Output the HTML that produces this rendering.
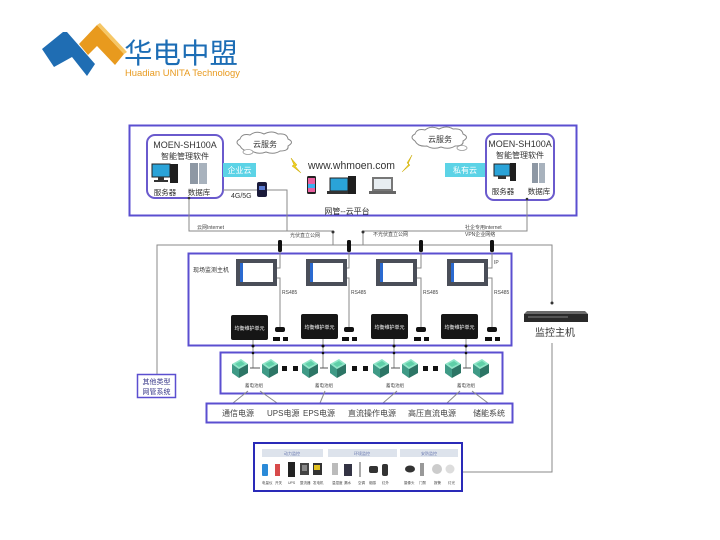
<!DOCTYPE html>
<html><head><meta charset="utf-8"><style>
html,body{margin:0;padding:0;background:#fff;width:720px;height:540px;overflow:hidden}
svg{display:block}
text{font-family:"Liberation Sans","Noto Sans CJK SC",sans-serif}
</style></head><body>
<svg width="720" height="540" viewBox="0 0 720 540" xmlns="http://www.w3.org/2000/svg">
<!-- Logo -->
<polygon points="79,44 97,25 124,54 115,65 97,46 88,55" fill="#e89a1e"/>
<polygon points="97,25 100,23 127,52 124,54" fill="#f6c766"/>
<polygon points="42,49 63,32 67,32 95,64 87,76 72,57 54,67" fill="#1f6db3"/>
<text x="124" y="63" font-size="28" fill="#1c6db5" textLength="114" lengthAdjust="spacingAndGlyphs">华电中盟</text>
<text x="125" y="76" font-size="9.5" fill="#e89a1e" textLength="115" lengthAdjust="spacingAndGlyphs">Huadian UNITA Technology</text>

<!-- Top box -->
<rect x="129.5" y="125.5" width="447" height="90" fill="none" stroke="#5b4fd0" stroke-width="2"/>
<!-- left inner -->
<rect x="147" y="135" width="76" height="63" rx="8" fill="#fff" stroke="#6a5acd" stroke-width="2"/>
<text x="185" y="148" font-size="9" fill="#333" text-anchor="middle">MOEN-SH100A</text>
<text x="185" y="159" font-size="8" fill="#333" text-anchor="middle">智能管理软件</text>
<rect x="152" y="164" width="18" height="13" fill="#2aa3d8" stroke="#222" stroke-width="1"/>
<rect x="158" y="177" width="6" height="3" fill="#333"/><rect x="154" y="180" width="14" height="2" fill="#333"/>
<rect x="170" y="164" width="8" height="19" fill="#1e1e1e"/>
<rect x="190" y="163" width="8" height="21" fill="#8e98a4"/><rect x="199" y="163" width="8" height="21" fill="#a8b2bd"/>
<text x="165" y="195" font-size="7.5" fill="#333" text-anchor="middle">服务器</text>
<text x="199" y="195" font-size="7.5" fill="#333" text-anchor="middle">数据库</text>
<!-- right inner -->
<rect x="486" y="134" width="68" height="66" rx="8" fill="#fff" stroke="#6a5acd" stroke-width="2"/>
<text x="520" y="147" font-size="9" fill="#333" text-anchor="middle">MOEN-SH100A</text>
<text x="520" y="158" font-size="8" fill="#333" text-anchor="middle">智能管理软件</text>
<rect x="494" y="164" width="16" height="12" fill="#2aa3d8" stroke="#222" stroke-width="1"/>
<rect x="498" y="176" width="8" height="3" fill="#333"/>
<rect x="510" y="163" width="6" height="18" fill="#1e1e1e"/>
<rect x="532" y="163" width="6" height="20" fill="#8e98a4"/><rect x="539" y="163" width="6" height="20" fill="#a8b2bd"/>
<text x="503" y="194" font-size="7.5" fill="#333" text-anchor="middle">服务器</text>
<text x="539" y="194" font-size="7.5" fill="#333" text-anchor="middle">数据库</text>
<!-- cyan labels -->
<rect x="223" y="163" width="33" height="14" fill="#5cd3e6"/>
<text x="239.5" y="173" font-size="8" fill="#fff" text-anchor="middle">企业云</text>
<rect x="445" y="163" width="40" height="14" fill="#5cd3e6"/>
<text x="465" y="173" font-size="8" fill="#fff" text-anchor="middle">私有云</text>
<!-- clouds -->
<path d="M240,146 q-6,-4 0,-7 q2,-6 10,-4 q6,-5 14,-1 q8,-4 14,0 q9,-1 10,5 q7,3 0,7 q1,5 -8,5 q-6,4 -14,1 q-8,3 -14,-1 q-9,1 -12,-5z" fill="#fff" stroke="#888" stroke-width="1"/>
<ellipse cx="248" cy="152" rx="5" ry="2.5" fill="#fff" stroke="#999" stroke-width="0.8"/>
<text x="265" y="147" font-size="8" fill="#333" text-anchor="middle">云服务</text>
<path d="M415,141 q-6,-4 0,-7 q2,-6 10,-4 q6,-5 14,-1 q8,-4 14,0 q9,-1 10,5 q7,3 0,7 q1,5 -8,5 q-6,4 -14,1 q-8,3 -14,-1 q-9,1 -12,-5z" fill="#fff" stroke="#888" stroke-width="1"/>
<ellipse cx="462" cy="148" rx="5" ry="2.5" fill="#fff" stroke="#999" stroke-width="0.8"/>
<text x="440" y="142" font-size="8" fill="#333" text-anchor="middle">云服务</text>
<!-- lightning -->
<polygon points="291,158 297,165 295,166 301,173 292,166 294,165" fill="#f0d020" stroke="#c9a800" stroke-width="0.5"/>
<polygon points="412,155 407,163 409,164 402,172 410,165 408,164" fill="#f0d020" stroke="#c9a800" stroke-width="0.5"/>
<text x="308" y="169" font-size="11" fill="#333" textLength="87" lengthAdjust="spacingAndGlyphs">www.whmoen.com</text>
<!-- devices -->
<rect x="307" y="176" width="9" height="18" rx="1.5" fill="#222"/>
<rect x="308" y="178" width="7" height="14" fill="#e95fa0"/><rect x="308" y="184" width="7" height="4" fill="#3ab0f0"/>
<rect x="330" y="178" width="18" height="13" fill="#2aa3d8" stroke="#222" stroke-width="1"/>
<rect x="327" y="191" width="22" height="3" fill="#333"/>
<rect x="348" y="176" width="8" height="18" fill="#1e1e1e"/>
<rect x="372" y="177" width="21" height="14" fill="#777"/><rect x="374" y="179" width="17" height="10" fill="#e8eef2"/>
<rect x="369" y="191" width="27" height="3" fill="#666"/>
<rect x="257" y="182" width="10" height="15" rx="2" fill="#1a1a3a"/><rect x="259" y="186" width="6" height="4" fill="#5a7ad0"/>
<text x="231" y="198" font-size="7" fill="#333">4G/5G</text>
<text x="347" y="214" font-size="8" fill="#333" text-anchor="middle">网管--云平台</text>

<!-- connectors top -->
<g stroke="#8a8a8a" stroke-width="1" fill="none">
<polyline points="223,190 257,190"/>
<polyline points="267,190 287,190 287,231 189,231 189,198"/>
<polyline points="287,231 333,231 333,245"/>
<polyline points="527,198 527,231 363,231 363,245"/>
<polyline points="157,374 157,245 552,245 552,303"/>
<polyline points="552,343 552,472 462,472"/>
</g>
<circle cx="189" cy="198" r="1.3" fill="#333"/>
<circle cx="527" cy="199" r="1.3" fill="#333"/>
<circle cx="333" cy="232" r="1.5" fill="#333"/>
<circle cx="363" cy="232" r="1.5" fill="#333"/>
<circle cx="552" cy="303" r="1.5" fill="#333"/>
<text x="197" y="229" font-size="5" fill="#444">云网Internet</text>
<text x="290" y="237" font-size="5" fill="#444">光伏直立公网</text>
<text x="373" y="236" font-size="5" fill="#444">不光伏直立公网</text>
<text x="465" y="229" font-size="5" fill="#444">社企专用internet</text>
<text x="465" y="236" font-size="5" fill="#444">VPN企业网络</text>

<!-- middle box -->
<rect x="188.5" y="253.5" width="323" height="92" fill="none" stroke="#5b4fd0" stroke-width="2"/>
<text x="193" y="272" font-size="6" fill="#333">现场监测主机</text>
<text x="494" y="264" font-size="5" fill="#444">IP</text>
<!-- units -->
<g stroke="#8a8a8a" stroke-width="1" fill="none">
<polyline points="280,245 280,268 277,268"/><polyline points="277,278 280,278 280,328"/>
<polyline points="349,245 349,268 347,268"/><polyline points="347,278 349,278 349,328"/>
<polyline points="421,245 421,268 417,268"/><polyline points="417,278 421,278 421,328"/>
<polyline points="492,245 492,268 488,268"/><polyline points="488,278 492,278 492,328"/>
<line x1="253" y1="339" x2="253" y2="368"/><line x1="323" y1="339" x2="323" y2="368"/>
<line x1="394" y1="339" x2="394" y2="368"/><line x1="466" y1="339" x2="466" y2="368"/>
</g>
<g fill="#111">
<rect x="278" y="240" width="4" height="12" rx="1.5"/><rect x="347" y="240" width="4" height="12" rx="1.5"/>
<rect x="419" y="240" width="4" height="12" rx="1.5"/><rect x="490" y="240" width="4" height="12" rx="1.5"/>
<rect x="275" y="327" width="10" height="5" rx="2"/><rect x="344" y="327" width="10" height="5" rx="2"/>
<rect x="416" y="327" width="10" height="5" rx="2"/><rect x="487" y="327" width="10" height="5" rx="2"/>
<rect x="273" y="337" width="7" height="4"/><rect x="283" y="337" width="5" height="4"/>
<rect x="342" y="337" width="7" height="4"/><rect x="352" y="337" width="5" height="4"/>
<rect x="414" y="337" width="7" height="4"/><rect x="424" y="337" width="5" height="4"/>
<rect x="485" y="337" width="7" height="4"/><rect x="495" y="337" width="5" height="4"/>
<circle cx="253" cy="346" r="1.5"/><circle cx="323" cy="346" r="1.5"/><circle cx="394" cy="346" r="1.5"/><circle cx="466" cy="346" r="1.5"/>
</g>
<g font-size="5" fill="#444">
<text x="282" y="294">RS485</text><text x="351" y="294">RS485</text><text x="423" y="294">RS485</text><text x="494" y="294">RS485</text>
</g>
<!-- screens -->
<g>
<rect x="236" y="259" width="41" height="27" fill="#4a4e58"/><rect x="240" y="263" width="33" height="19" fill="#fff"/><rect x="240" y="263" width="3" height="19" fill="#2a6ad0"/>
<rect x="306" y="259" width="41" height="27" fill="#4a4e58"/><rect x="310" y="263" width="33" height="19" fill="#fff"/><rect x="310" y="263" width="3" height="19" fill="#2a6ad0"/>
<rect x="376" y="259" width="41" height="27" fill="#4a4e58"/><rect x="380" y="263" width="33" height="19" fill="#fff"/><rect x="380" y="263" width="3" height="19" fill="#2a6ad0"/>
<rect x="447" y="259" width="41" height="27" fill="#4a4e58"/><rect x="451" y="263" width="33" height="19" fill="#fff"/><rect x="451" y="263" width="3" height="19" fill="#2a6ad0"/>
</g>
<!-- black boxes -->
<g>
<rect x="231" y="315" width="37" height="25" rx="2" fill="#161616"/>
<rect x="301" y="314" width="37" height="25" rx="2" fill="#161616"/>
<rect x="371" y="314" width="37" height="25" rx="2" fill="#161616"/>
<rect x="441" y="314" width="37" height="25" rx="2" fill="#161616"/>
</g>
<g font-size="5" fill="#fff" text-anchor="middle">
<text x="249.5" y="330">均衡维护单元</text><text x="319.5" y="329">均衡维护单元</text>
<text x="389.5" y="329">均衡维护单元</text><text x="459.5" y="329">均衡维护单元</text>
</g>

<!-- battery box -->
<rect x="220.5" y="352.5" width="282" height="41" fill="none" stroke="#5b4fd0" stroke-width="2"/>
<g fill="#111">
<circle cx="253" cy="353" r="1.3"/><circle cx="323" cy="353" r="1.3"/><circle cx="394" cy="353" r="1.3"/><circle cx="466" cy="353" r="1.3"/>
<rect x="282" y="366" width="5" height="5"/><rect x="293" y="366" width="5" height="5"/>
<rect x="352" y="366" width="5" height="5"/><rect x="363" y="366" width="5" height="5"/>
<rect x="423" y="366" width="5" height="5"/><rect x="433" y="366" width="5" height="5"/>
</g>
<defs>
<g id="bat">
<polygon points="0,5 9,0 16,5 7,10" fill="#8fe6c8"/>
<polygon points="0,5 7,10 7,19 0,14" fill="#3f9a86"/>
<polygon points="7,10 16,5 16,14 7,19" fill="#2c7565"/>
<polygon points="3,5 9,2 13,5 7,8" fill="#5fcfa8"/>
</g>
</defs>
<use href="#bat" x="232" y="359"/><use href="#bat" x="262" y="359"/>
<use href="#bat" x="302" y="359"/><use href="#bat" x="330" y="359"/>
<use href="#bat" x="373" y="359"/><use href="#bat" x="402" y="359"/>
<use href="#bat" x="445" y="359"/><use href="#bat" x="473" y="359"/>
<g stroke="#555" stroke-width="1">
<line x1="250" y1="368" x2="260" y2="368"/><line x1="320" y1="368" x2="328" y2="368"/>
<line x1="391" y1="368" x2="400" y2="368"/><line x1="463" y1="368" x2="471" y2="368"/>
</g>
<g font-size="4.5" fill="#444" text-anchor="middle">
<text x="254" y="387">蓄电池组</text><text x="324" y="387">蓄电池组</text><text x="395" y="387">蓄电池组</text><text x="466" y="387">蓄电池组</text>
</g>
<g stroke="#8a8a8a" stroke-width="1">
<line x1="248" y1="391" x2="233" y2="403"/><line x1="260" y1="391" x2="277" y2="403"/>
<line x1="325" y1="391" x2="320" y2="403"/>
<line x1="397" y1="391" x2="383" y2="403"/>
<line x1="460" y1="391" x2="447" y2="403"/><line x1="472" y1="391" x2="488" y2="403"/>
</g>
<!-- labels box -->
<rect x="206.5" y="403.5" width="306" height="19" fill="none" stroke="#5b4fd0" stroke-width="2"/>
<g font-size="8" fill="#444">
<text x="222" y="416">通信电源</text><text x="267" y="416">UPS电源</text><text x="303" y="416">EPS电源</text>
<text x="348" y="416">直流操作电源</text><text x="408" y="416">高压直流电源</text><text x="473" y="416">储能系统</text>
</g>
<!-- other system box -->
<rect x="137.5" y="374.5" width="38" height="23" fill="#fff" stroke="#5b4fd0" stroke-width="1.5"/>
<g font-size="7" fill="#3a3a8a" text-anchor="middle"><text x="156.5" y="384">其他类型</text><text x="156.5" y="394">网管系统</text></g>

<!-- monitor host -->
<polygon points="527,311 585,311 588,314 524,314" fill="#6a6a6a"/>
<rect x="524" y="314" width="64" height="8" fill="#2a2a2a"/>
<rect x="528" y="316" width="40" height="2" fill="#555"/>
<text x="555" y="336" font-size="10" fill="#333" text-anchor="middle">监控主机</text>

<!-- bottom box -->
<rect x="254" y="443" width="208" height="48" fill="#fff" stroke="#2a2ab8" stroke-width="2"/>
<rect x="262" y="449" width="61" height="8" fill="#dde3ec"/>
<rect x="328" y="449" width="69" height="8" fill="#dde3ec"/>
<rect x="400" y="449" width="58" height="8" fill="#dde3ec"/>
<g font-size="4" fill="#6a7ab0" text-anchor="middle"><text x="292" y="455">动力监控</text><text x="362" y="455">环境监控</text><text x="429" y="455">安防监控</text></g>
<rect x="262" y="464" width="6" height="12" rx="1" fill="#2a8ad8"/>
<rect x="275" y="464" width="5" height="12" fill="#d84a4a"/>
<rect x="288" y="462" width="7" height="15" fill="#222"/>
<rect x="300" y="463" width="9" height="12" fill="#444"/><rect x="302" y="465" width="5" height="6" fill="#888"/>
<rect x="313" y="463" width="9" height="12" fill="#333"/><rect x="314" y="465" width="6" height="5" fill="#e0c020"/>
<rect x="332" y="463" width="6" height="12" fill="#bbb"/>
<rect x="344" y="464" width="8" height="12" fill="#334"/>
<rect x="359" y="462" width="2" height="15" fill="#aaa"/>
<rect x="369" y="466" width="9" height="7" rx="2" fill="#333"/>
<rect x="382" y="464" width="6" height="12" rx="2" fill="#333"/>
<ellipse cx="410" cy="469" rx="5" ry="3.5" fill="#333"/>
<rect x="420" y="463" width="4" height="13" fill="#999"/>
<circle cx="437" cy="469" r="5" fill="#ccc"/>
<circle cx="450" cy="469" r="4.5" fill="#ddd"/>
<g font-size="3.5" fill="#444"><text x="262" y="484">电量仪</text><text x="275" y="484">开关</text><text x="288" y="484">UPS</text><text x="300" y="484">整流器</text><text x="313" y="484">发电机</text>
<text x="332" y="484">温湿度</text><text x="344" y="484">漏水</text><text x="358" y="484">空调</text><text x="369" y="484">烟感</text><text x="382" y="484">红外</text>
<text x="404" y="484">摄像头</text><text x="419" y="484">门禁</text><text x="434" y="484">报警</text><text x="448" y="484">灯光</text></g>
</svg>
</body></html>
